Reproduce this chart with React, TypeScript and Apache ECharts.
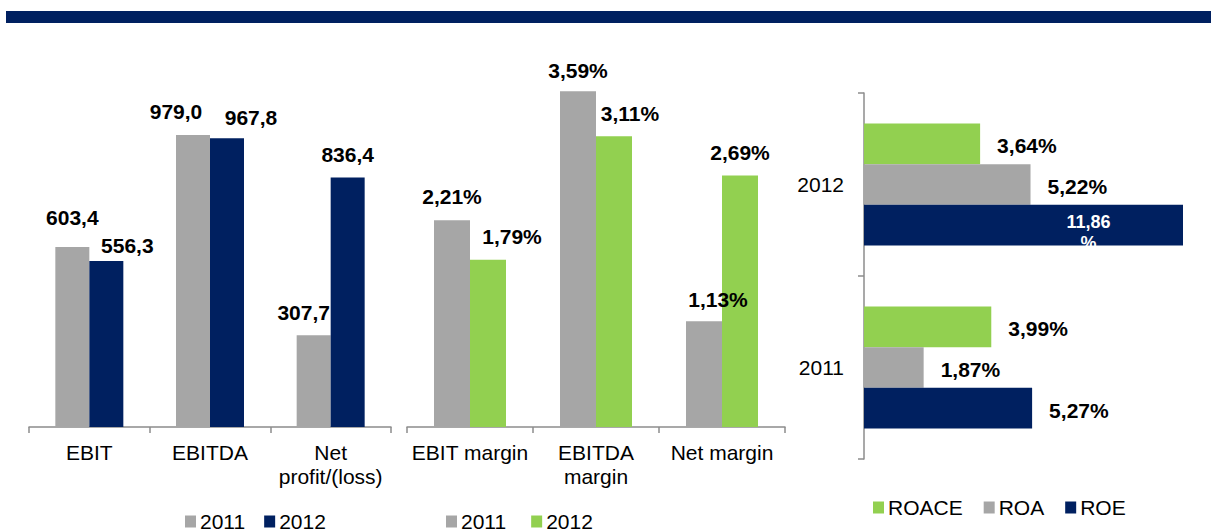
import React, { useEffect, useRef } from 'react';
import * as echarts from 'echarts';

// ---- data ----
const absCategories = ['EBIT', 'EBITDA', 'Net\nprofit/(loss)'];
const abs2011 = [603.4, 979.0, 307.7];
const abs2012 = [556.3, 967.8, 836.4];

const marginCategories = ['EBIT margin', 'EBITDA\nmargin', 'Net margin'];
const margin2011 = [2.21, 3.59, 1.13];
const margin2012 = [1.79, 3.11, 2.69];

const returnYears = ['2011', '2012'];
const roace = [3.99, 3.64];
const roa = [1.87, 5.22];
const roe = [5.27, 11.86];

// ---- label placement (styling, not data) ----
const absOff2011 = [[0, -19], [-17, -13], [-10, -12]];
const absOff2012 = [[21, -5], [24, -10], [0, -12]];
const marOff2011 = [[0, -13], [0, -10], [14, -11]];
const marOff2012 = [[24, -13], [16, -12], [0, -12]];

const GRAY = '#A6A6A6';
const NAVY = '#002060';
const GREEN = '#92D050';
const AXIS = '#8C8C8C';
const FONT = '"Liberation Sans", Arial, sans-serif';

const fmt = (v: number, d: number, pct: boolean) =>
  v.toFixed(d).replace('.', ',') + (pct ? '%' : '');

const withOffsets = (vals: number[], offs: number[][], d: number, pct: boolean) =>
  vals.map((v, i) => ({
    value: v,
    label: { offset: offs[i], formatter: fmt(v, d, pct) },
  }));

const valueLabel = {
  show: true,
  position: 'top',
  distance: 0,
  color: '#000',
  fontSize: 21,
  fontWeight: 'bold',
  fontFamily: FONT,
};

const catAxis = (gridIndex: number, data: string[]) => ({
  type: 'category',
  gridIndex,
  data,
  axisLine: { show: true, lineStyle: { color: AXIS, width: 1.5 } },
  axisTick: { show: true, length: 6, lineStyle: { color: AXIS, width: 1.5 } },
  axisLabel: {
    color: '#000',
    fontSize: 21,
    fontFamily: FONT,
    margin: 13,
    lineHeight: 24,
    interval: 0,
  },
});

export default function App() {
  const ref = useRef<HTMLDivElement>(null);

  useEffect(() => {
    if (!ref.current) return;
    const chart = echarts.init(ref.current, undefined, { renderer: 'svg' });

    const rightLabel = {
      show: true,
      position: 'right',
      distance: 17,
      offset: [0, 2],
      color: '#000',
      fontSize: 21,
      fontWeight: 'bold',
      fontFamily: FONT,
      formatter: (p: any) => fmt(p.value, 2, true),
    };

    const legendText = { color: '#000', fontSize: 21, fontFamily: FONT, padding: [0, 0, 0, -1] };

    const option: any = {
      animation: false,
      graphic: [
        {
          type: 'rect',
          shape: { x: 6, y: 11, width: 1205, height: 12 },
          style: { fill: NAVY },
        },
      ],
      grid: [
        { left: 29, top: 69, width: 362, height: 358 },
        { left: 407, top: 53, width: 378, height: 374 },
        { left: 864, top: 93, width: 319, height: 366 },
      ],
      xAxis: [
        catAxis(0, absCategories),
        catAxis(1, marginCategories),
        { type: 'value', gridIndex: 2, min: 0, max: 10, show: false },
      ],
      yAxis: [
        { type: 'value', gridIndex: 0, min: 0, max: 1200, show: false },
        { type: 'value', gridIndex: 1, min: 0, max: 4, show: false },
        {
          ...catAxis(2, returnYears),
          axisLabel: { color: '#000', fontSize: 21, fontFamily: FONT, margin: 20 },
        },
      ],
      legend: [
        {
          left: 180,
          top: 506,
          itemWidth: 11,
          itemHeight: 12,
          itemGap: 19,
          icon: 'rect',
          data: ['2011', '2012'],
          textStyle: legendText,
        },
        {
          left: 441,
          top: 506,
          itemWidth: 11,
          itemHeight: 12,
          itemGap: 25,
          icon: 'rect',
          data: ['Margin 2011', 'Margin 2012'],
          formatter: (n: string) => n.replace('Margin ', ''),
          textStyle: legendText,
        },
        {
          left: 868,
          top: 492,
          itemWidth: 11,
          itemHeight: 12,
          itemGap: 21,
          icon: 'rect',
          data: ['ROACE', 'ROA', 'ROE'],
          textStyle: legendText,
        },
      ],
      series: [
        {
          name: '2011',
          type: 'bar',
          xAxisIndex: 0,
          yAxisIndex: 0,
          barWidth: 34,
          barGap: '0%',
          itemStyle: { color: GRAY },
          label: valueLabel,
          data: withOffsets(abs2011, absOff2011, 1, false),
        },
        {
          name: '2012',
          type: 'bar',
          xAxisIndex: 0,
          yAxisIndex: 0,
          barWidth: 34,
          barGap: '0%',
          itemStyle: { color: NAVY },
          label: valueLabel,
          data: withOffsets(abs2012, absOff2012, 1, false),
        },
        {
          name: 'Margin 2011',
          type: 'bar',
          xAxisIndex: 1,
          yAxisIndex: 1,
          barWidth: 36,
          barGap: '0%',
          itemStyle: { color: GRAY },
          label: valueLabel,
          data: withOffsets(margin2011, marOff2011, 2, true),
        },
        {
          name: 'Margin 2012',
          type: 'bar',
          xAxisIndex: 1,
          yAxisIndex: 1,
          barWidth: 36,
          barGap: '0%',
          itemStyle: { color: GREEN },
          label: valueLabel,
          data: withOffsets(margin2012, marOff2012, 2, true),
        },
        {
          name: 'ROACE',
          type: 'bar',
          xAxisIndex: 2,
          yAxisIndex: 2,
          barWidth: 40.7,
          barGap: '0%',
          clip: true,
          itemStyle: { color: GREEN },
          label: rightLabel,
          data: roace,
        },
        {
          name: 'ROA',
          type: 'bar',
          xAxisIndex: 2,
          yAxisIndex: 2,
          barWidth: 40.7,
          barGap: '0%',
          clip: true,
          itemStyle: { color: GRAY },
          label: rightLabel,
          data: roa,
        },
        {
          name: 'ROE',
          type: 'bar',
          xAxisIndex: 2,
          yAxisIndex: 2,
          barWidth: 40.7,
          barGap: '0%',
          clip: true,
          itemStyle: { color: NAVY },
          label: rightLabel,
          data: roe.map((v) =>
            v > 10
              ? {
                  value: v,
                  label: {
                    position: 'inside',
                    offset: [65, 7],
                    color: '#fff',
                    fontSize: 18,
                    lineHeight: 21,
                    align: 'center',
                    formatter: fmt(v, 2, false) + '\n%',
                  },
                }
              : v
          ),
        },
      ],
    };

    chart.setOption(option);
    return () => chart.dispose();
  }, []);

  return (
    <div
      ref={ref}
      style={{ position: 'fixed', left: 0, top: 0, width: 1211, height: 532, background: '#fff' }}
    />
  );
}
